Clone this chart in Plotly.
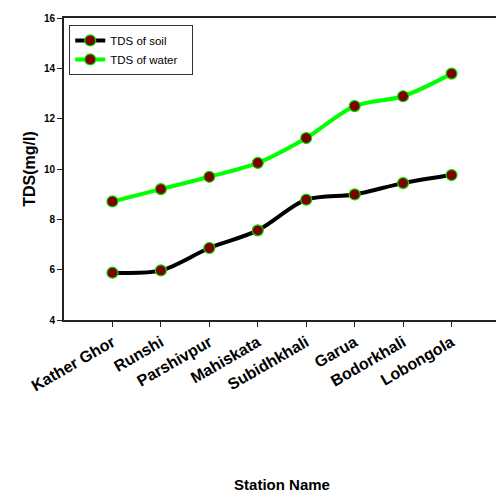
import plotly.graph_objects as go

stations = ["Kather Ghor", "Runshi", "Parshivpur", "Mahiskata", "Subidhkhali",
            "Garua", "Bodorkhali", "Lobongola"]
positions = [1, 2, 3, 4, 5, 6, 7, 8]
tds_soil = [5.88, 5.97, 6.86, 7.56, 8.78, 8.99, 9.44, 9.76]
tds_water = [8.71, 9.2, 9.69, 10.24, 11.23, 12.5, 12.89, 13.79]
series_names = ["TDS of soil", "TDS of water"]

fig = go.Figure()
fig.add_trace(go.Scatter(
    x=positions, y=tds_soil, name=series_names[0] + "&nbsp;&nbsp;&nbsp;", mode="lines+markers",
    line=dict(color="black", width=4, shape="spline", smoothing=0.9),
    marker=dict(size=11, color="#800000", line=dict(color="#00e000", width=1.2)),
))
fig.add_trace(go.Scatter(
    x=positions, y=tds_water, name=series_names[1] + "&nbsp;&nbsp;&nbsp;", mode="lines+markers",
    line=dict(color="#00ff00", width=4, shape="spline", smoothing=0.9),
    marker=dict(size=11, color="#800000", line=dict(color="#00e000", width=1.2)),
))

fig.update_layout(
    width=496, height=485,
    margin=dict(l=56, r=2, t=10, b=169),
    paper_bgcolor="white", plot_bgcolor="white",
    font=dict(family="Arial, Liberation Sans, sans-serif", color="black"),
    showlegend=True,
    legend=dict(
        x=0.012, y=0.977, xanchor="left", yanchor="top",
        bgcolor="white", bordercolor="#333333", borderwidth=1,
        font=dict(size=11.5, family="Arial, Liberation Sans, sans-serif"),
        tracegroupgap=0, itemwidth=30,
    ),
    xaxis=dict(
        range=[0, 9], tickmode="array", tickvals=positions,
        ticktext=["<b>%s</b>" % s for s in stations],
        tickangle=-30, showgrid=False, zeroline=False,
        showline=True, linewidth=2, linecolor="#222222", mirror=True,
        ticks="outside", ticklen=5, tickwidth=1, tickcolor="#222222",
        tickfont=dict(size=16),
        title=dict(text="<b>Station Name</b>", font=dict(size=15), standoff=86),
    ),
    yaxis=dict(
        range=[4, 16], tickmode="array", tickvals=[4, 6, 8, 10, 12, 14, 16],
        ticktext=["<b>4</b>", "<b>6</b>", "<b>8</b>", "<b>10</b>", "<b>12</b>", "<b>14</b>", "<b>16</b>"],
        showgrid=False, zeroline=False,
        showline=True, linewidth=2, linecolor="#222222", mirror=True,
        ticks="outside", ticklen=5, tickwidth=1, tickcolor="#222222",
        tickfont=dict(size=10),
        title=dict(text="<b>TDS(mg/l)</b>", font=dict(size=16), standoff=4),
    ),
)

fig.write_html("out.html")
